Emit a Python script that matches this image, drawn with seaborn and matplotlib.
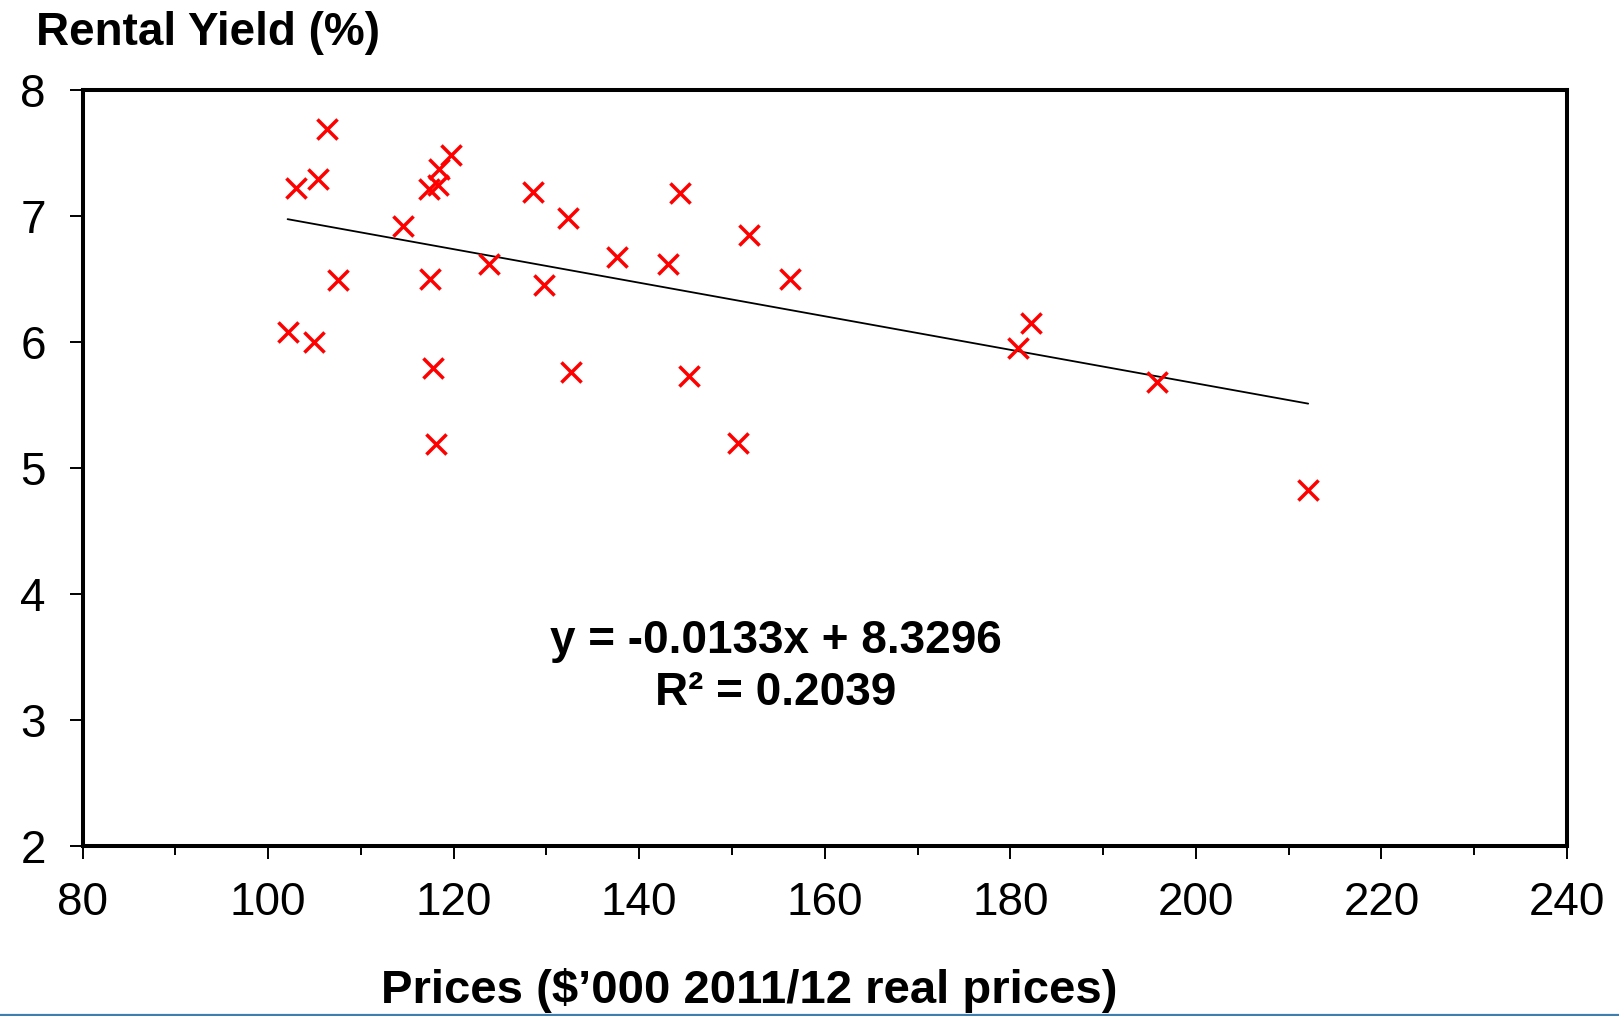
import numpy as np
import matplotlib
matplotlib.use("Agg")
import matplotlib.pyplot as plt
from matplotlib.lines import Line2D
from matplotlib.ticker import MultipleLocator
import seaborn as sns

# ---- data ----
prices = [106.3, 103.0, 105.4, 102.1, 104.9, 107.5, 114.5, 117.4, 117.8, 118.1,
          117.3, 118.3, 118.4, 119.7, 123.8, 128.6, 129.7, 132.3, 132.6, 137.6,
          143.1, 144.4, 145.4, 150.6, 151.8, 156.2, 180.8, 182.2, 195.8, 212.1]
yields = [7.69, 7.22, 7.29, 6.08, 6.00, 6.49, 6.92, 6.50, 5.79, 5.19,
          7.21, 7.24, 7.37, 7.48, 6.62, 7.19, 6.45, 6.98, 5.76, 6.67,
          6.62, 7.18, 5.73, 5.20, 6.85, 6.50, 5.95, 6.15, 5.68, 4.82]
slope = -0.0133
intercept = 8.3296
r_squared = 0.2039
x_ticks = [80, 100, 120, 140, 160, 180, 200, 220, 240]
y_ticks = [2, 3, 4, 5, 6, 7, 8]

title_text = "Rental Yield (%)"
xlabel_text = "Prices ($\u2019000 2011/12 real prices)"

sns.set_style("ticks")
plt.rcParams["font.family"] = ["Liberation Sans", "DejaVu Sans"]

fig = plt.figure(figsize=(16.19, 10.16), dpi=100)
ax = fig.add_axes([0.0510, 0.1673, 0.9169, 0.7446])

sns.scatterplot(x=prices, y=yields, marker="x", color="#ff0000", s=210,
                linewidth=2.5, ax=ax, zorder=3)

x_line = np.array([min(prices), max(prices)])
y_line = slope * x_line + intercept
sns.lineplot(x=x_line, y=y_line, color="black", linewidth=1.3, ax=ax, zorder=2)

ax.set_xlim(80, 240)
ax.set_ylim(2, 8)
ax.set_xticks(x_ticks)
ax.set_yticks(y_ticks)
ax.xaxis.set_minor_locator(MultipleLocator(10))

for sp in ax.spines.values():
    sp.set_visible(True)
    sp.set_linewidth(2.9)
    sp.set_color("black")

ax.tick_params(axis="x", which="major", direction="out", length=9, width=1.4,
               pad=16, labelsize=33, color="black", labelcolor="black")
ax.tick_params(axis="x", which="minor", direction="out", length=6.5, width=1.4,
               color="black")
ax.tick_params(axis="y", which="major", direction="out", length=9.5, width=1.4,
               pad=17, labelsize=33, color="black", labelcolor="black")
ax.set_xlabel("")
ax.set_ylabel("")

# equation annotation
ax.text(154.7, 3.63, f"y = {slope:.4f}x + {intercept:.4f}", ha="center",
        va="center", fontsize=33, fontweight="bold", color="black")
ax.text(154.7, 3.21, f"R\u00b2 = {r_squared:.4f}", ha="center",
        va="center", fontsize=33, fontweight="bold", color="black")

# titles
fig.text(0.0222, 1 - 45 / 1016, title_text, ha="left", va="baseline",
         fontsize=33, fontweight="bold", color="black")
fig.text(0.4626, 1 - 1003 / 1016, xlabel_text, ha="center", va="baseline",
         fontsize=34, fontweight="bold", color="black")

# thin blue rule at the bottom edge
fig.add_artist(Line2D([0, 1], [1.5 / 1016, 1.5 / 1016], transform=fig.transFigure,
                      color="#3f7fb0", linewidth=1.6))

fig.savefig("out.png", dpi=100)
